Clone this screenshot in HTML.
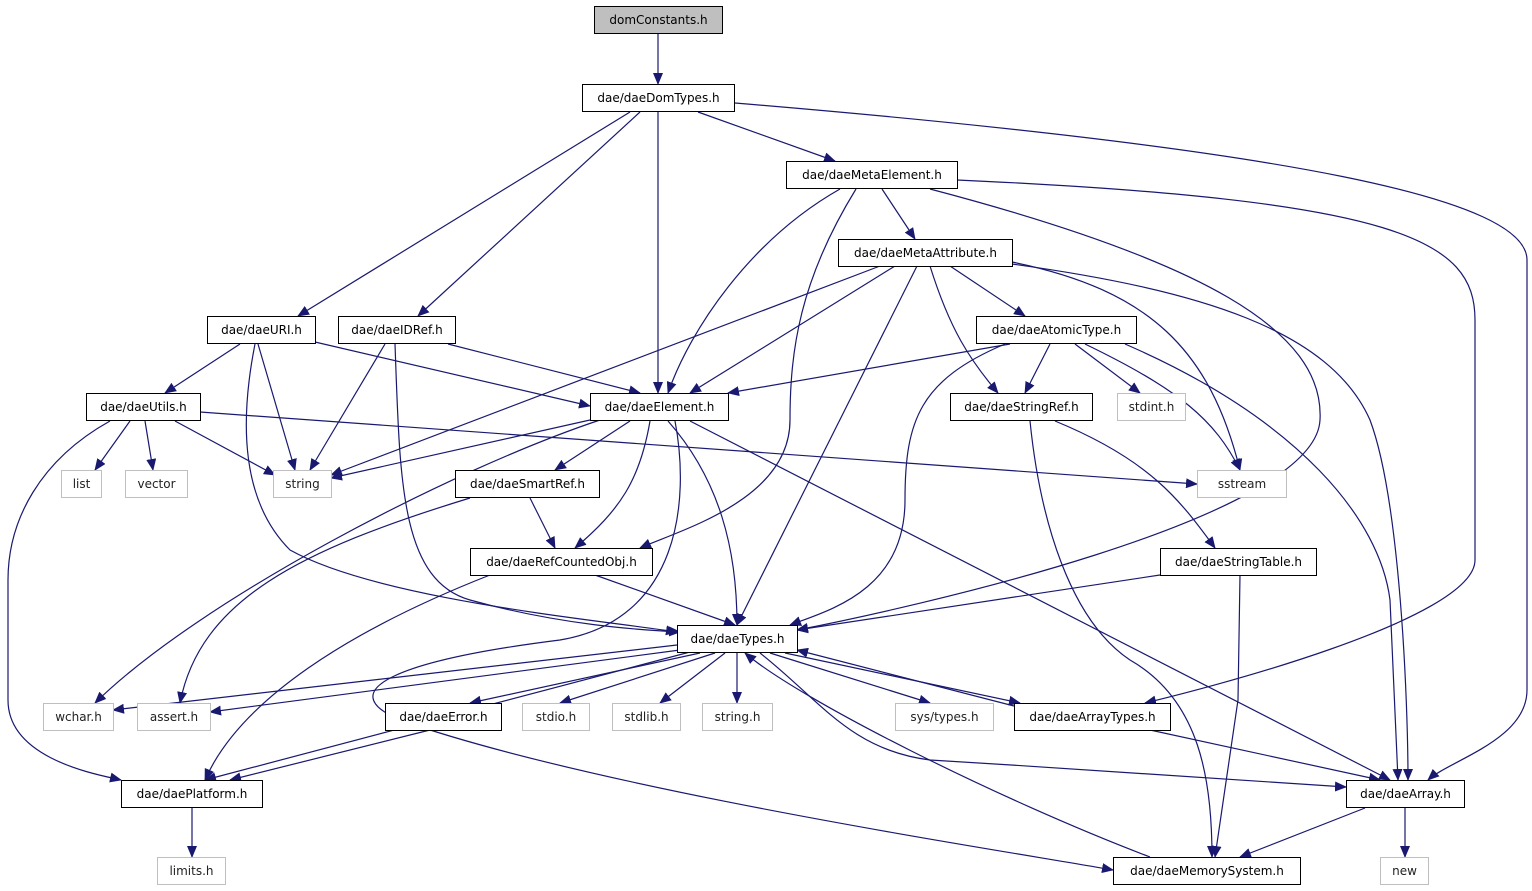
<!DOCTYPE html>
<html><head><meta charset="utf-8"><style>
body{margin:0;background:#fff;width:1532px;height:891px;position:relative;overflow:hidden;font-family:"DejaVu Sans","Liberation Sans",sans-serif}
.n{position:absolute;height:26px;border:1px solid #000;background:#fff;font-size:12px;line-height:26px;text-align:center;color:#000;box-sizing:content-box}
.g{border-color:#bfbfbf;color:#222}
svg{position:absolute;left:0;top:0}
</style></head><body>
<svg width="1532" height="891">
<defs><marker id="a" markerWidth="12" markerHeight="10" refX="11" refY="5" orient="auto" markerUnits="userSpaceOnUse"><path d="M0,0 L12,5 L0,10 z" fill="#191970"/></marker></defs>
<g fill="none" stroke="#191970" stroke-width="1.2" marker-end="url(#a)">
<path d="M658,34 L658,84"/>
<path d="M735,103 C1300,150 1527,200 1527,260 L1527,690 C1527,740 1450,760 1428,780"/>
<path d="M698,112 L835,161"/>
<path d="M658,112 L658,393"/>
<path d="M640,112 L418,316"/>
<path d="M630,112 L298,316"/>
<path d="M957,180 C1400,200 1475,240 1475,320 L1475,560 C1475,620 1200,690 1145,703"/>
<path d="M930,189 C1200,260 1325,330 1320,420 C1315,520 900,610 797,630"/>
<path d="M882,189 L915,239"/>
<path d="M856,189 C800,280 790,350 790,420 C790,500 680,530 640,548"/>
<path d="M840,189 C750,240 690,330 668,393"/>
<path d="M1012,264 C1200,290 1330,330 1370,420 C1400,500 1408,700 1408,780"/>
<path d="M1012,262 C1150,290 1210,350 1240,470"/>
<path d="M950,266 L1025,316"/>
<path d="M930,266 C950,330 970,360 998,393"/>
<path d="M917,266 L737,625"/>
<path d="M895,266 L690,393"/>
<path d="M880,266 L331,475"/>
<path d="M1010,344 L728,393"/>
<path d="M1005,344 C920,380 905,420 905,500 C905,590 830,610 790,625"/>
<path d="M1050,344 L1025,393"/>
<path d="M1075,344 L1140,393"/>
<path d="M1085,344 C1180,390 1215,420 1240,470"/>
<path d="M1125,344 C1300,420 1380,520 1390,600 L1398,780"/>
<path d="M1055,421 C1150,460 1180,500 1215,548"/>
<path d="M1030,421 C1040,520 1070,620 1130,660 C1200,700 1212,780 1212,857"/>
<path d="M1160,575 L797,630"/>
<path d="M1240,575 L1238,700 L1215,857"/>
<path d="M315,342 L590,406"/>
<path d="M240,344 L165,393"/>
<path d="M258,344 L295,470"/>
<path d="M255,344 C240,420 240,500 290,550 C380,600 600,620 677,632"/>
<path d="M448,344 L640,393"/>
<path d="M385,344 L310,470"/>
<path d="M395,344 C400,480 400,580 470,600 C560,625 640,630 680,632"/>
<path d="M200,412 L1197,484"/>
<path d="M175,421 L275,475"/>
<path d="M145,421 L153,470"/>
<path d="M130,421 L95,470"/>
<path d="M110,421 C40,460 8,520 8,580 L8,700 C8,760 100,775 121,780"/>
<path d="M590,420 L331,478"/>
<path d="M600,420 C450,470 200,600 95,703"/>
<path d="M630,421 L555,470"/>
<path d="M650,421 C640,480 620,510 575,548"/>
<path d="M668,421 C720,480 737,550 737,625"/>
<path d="M675,421 C690,500 680,620 560,640 C400,660 330,690 400,720 C600,790 1000,850 1113,870"/>
<path d="M690,421 L1390,780"/>
<path d="M530,498 L555,548"/>
<path d="M470,498 C300,550 200,600 180,703"/>
<path d="M595,575 L735,625"/>
<path d="M490,575 C350,630 240,700 205,780"/>
<path d="M677,645 L113,710"/>
<path d="M680,650 L210,712"/>
<path d="M690,652 L205,780"/>
<path d="M700,653 L470,703"/>
<path d="M715,653 L560,703"/>
<path d="M725,653 L660,703"/>
<path d="M737,653 L737,703"/>
<path d="M770,653 L930,703"/>
<path d="M785,653 L1020,703"/>
<path d="M1014,706 L797,650"/>
<path d="M760,653 C820,700 850,750 930,760 C1100,770 1300,785 1346,787"/>
<path d="M1150,730 L1380,780"/>
<path d="M430,730 L230,780"/>
<path d="M192,808 L192,857"/>
<path d="M1405,808 L1405,857"/>
<path d="M1365,808 L1240,857"/>
<path d="M1150,857 C1000,800 800,700 745,653"/>
</g></svg>
<div class="n" style="left:594px;top:6px;width:127px;background:#bfbfbf">domConstants.h</div>
<div class="n" style="left:582px;top:84px;width:151px">dae/daeDomTypes.h</div>
<div class="n" style="left:786px;top:161px;width:170px">dae/daeMetaElement.h</div>
<div class="n" style="left:838px;top:239px;width:173px">dae/daeMetaAttribute.h</div>
<div class="n" style="left:207px;top:316px;width:107px">dae/daeURI.h</div>
<div class="n" style="left:338px;top:316px;width:116px">dae/daeIDRef.h</div>
<div class="n" style="left:976px;top:316px;width:159px">dae/daeAtomicType.h</div>
<div class="n" style="left:86px;top:393px;width:113px">dae/daeUtils.h</div>
<div class="n" style="left:590px;top:393px;width:137px">dae/daeElement.h</div>
<div class="n" style="left:950px;top:393px;width:141px">dae/daeStringRef.h</div>
<div class="n g" style="left:1117px;top:393px;width:67px">stdint.h</div>
<div class="n g" style="left:61px;top:470px;width:39px">list</div>
<div class="n g" style="left:125px;top:470px;width:61px">vector</div>
<div class="n g" style="left:273px;top:470px;width:57px">string</div>
<div class="n" style="left:455px;top:470px;width:143px">dae/daeSmartRef.h</div>
<div class="n g" style="left:1197px;top:470px;width:88px">sstream</div>
<div class="n" style="left:470px;top:548px;width:181px">dae/daeRefCountedObj.h</div>
<div class="n" style="left:1160px;top:548px;width:155px">dae/daeStringTable.h</div>
<div class="n" style="left:677px;top:625px;width:119px">dae/daeTypes.h</div>
<div class="n g" style="left:43px;top:703px;width:69px">wchar.h</div>
<div class="n g" style="left:137px;top:703px;width:72px">assert.h</div>
<div class="n" style="left:385px;top:703px;width:115px">dae/daeError.h</div>
<div class="n g" style="left:522px;top:703px;width:66px">stdio.h</div>
<div class="n g" style="left:612px;top:703px;width:67px">stdlib.h</div>
<div class="n g" style="left:702px;top:703px;width:69px">string.h</div>
<div class="n g" style="left:895px;top:703px;width:97px">sys/types.h</div>
<div class="n" style="left:1014px;top:703px;width:155px">dae/daeArrayTypes.h</div>
<div class="n" style="left:121px;top:780px;width:140px">dae/daePlatform.h</div>
<div class="n" style="left:1346px;top:780px;width:117px">dae/daeArray.h</div>
<div class="n g" style="left:157px;top:857px;width:67px">limits.h</div>
<div class="n" style="left:1113px;top:857px;width:186px">dae/daeMemorySystem.h</div>
<div class="n g" style="left:1380px;top:857px;width:47px">new</div>
</body></html>
